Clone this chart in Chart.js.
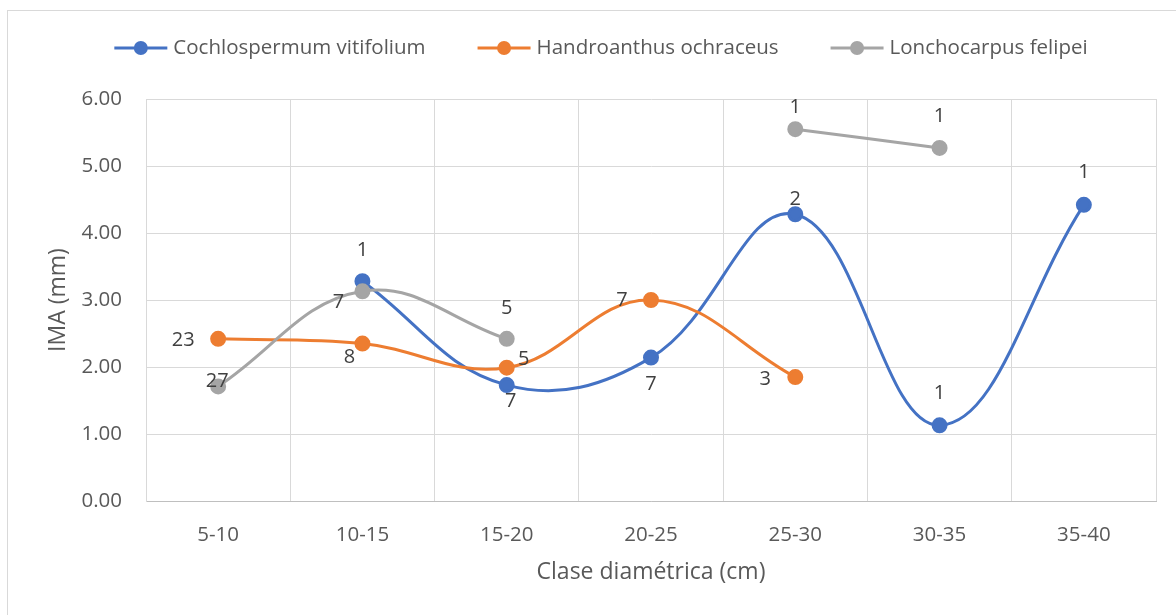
<!DOCTYPE html>
<html>
<head>
<meta charset="utf-8">
<title>IMA por clase diamétrica</title>
<script src="https://cdn.jsdelivr.net/npm/chart.js@4.4.1/dist/chart.umd.min.js"></script>
<style>
    html, body { margin: 0; padding: 0; background: #ffffff; }
</style>
</head>
<body>
<canvas id="ima-chart" width="1176" height="615"></canvas>
<script>
    "use strict";

    // Diameter classes (x axis)
    var categories = ["5-10", "10-15", "15-20", "20-25", "25-30", "30-35", "35-40"];

    // IMA (mm) per species
    var cochlospermum = [null, 3.28, 1.73, 2.14, 4.28, 1.13, 4.42];
    var handroanthus = [2.42, 2.35, 1.99, 3.00, 1.85, null, null];
    var lonchocarpus = [1.71, 3.13, 2.42, null, 5.55, 5.27, null];

    // Number of trees per class (shown as data labels)
    var cochlospermumN = [null, 1, 7, 7, 2, 1, 1];
    var handroanthusN = [23, 8, 5, 7, 3, null, null];
    var lonchocarpusN = [27, 7, 5, null, 1, 1, null];

    // Y axis range
    var yMin = 0;
    var yMax = 6;
    var yStep = 1;

    var FONT = "'Open Sans', 'Noto Sans', sans-serif";
    var AXIS_GREY = "#595959";
    var GRID_GREY = "#d9d9d9";


    // Outer chart border (like the Excel chart frame)
    var chartFrame = {
        id: 'chartFrame',
        beforeDraw: function (chart) {
            var ctx = chart.ctx;
            ctx.save();
            ctx.fillStyle = "#ffffff";
            ctx.fillRect(0, 0, chart.width, chart.height);
            ctx.strokeStyle = GRID_GREY;
            ctx.lineWidth = 1;
            ctx.strokeRect(7.5, 10.5, chart.width + 20, chart.height + 20);
            ctx.restore();
        }
    };


    // Count labels next to each point
    var countLabels = {
        id: 'countLabels',
        afterDatasetsDraw: function (chart) {
            var ctx = chart.ctx;
            ctx.save();
            ctx.font = "20px " + FONT;
            ctx.fillStyle = "#404040";
            ctx.textAlign = "center";
            ctx.textBaseline = "middle";
            chart.data.datasets.forEach(function (ds, i) {
                var meta = chart.getDatasetMeta(i);
                meta.data.forEach(function (pt, j) {
                    var n = ds.counts[j];
                    if (n === null || ds.data[j] === null) return;
                    var off = ds.labelOffsets[j] || [0, -31];
                    ctx.fillText(String(n), pt.x + off[0], pt.y + off[1]);
                });
            });
            ctx.restore();
        }
    };


    // Legend with line + marker, like Excel
    var lineLegend = {
        id: 'lineLegend',
        afterDraw: function (chart) {
            var ctx = chart.ctx;
            var markerW = 53, textGap = 6, itemGap = 52, centerX = 601, y = 48;
            ctx.save();
            ctx.font = "20.5px " + FONT;
            var items = chart.data.datasets.map(function (ds) {
                return {
                    text: ds.label,
                    color: ds.borderColor,
                    w: markerW + textGap + ctx.measureText(ds.label).width
                };
            });
            var total = items.reduce(function (s, it) { return s + it.w; }, 0) + itemGap * (items.length - 1);
            var x = centerX - total / 2;
            items.forEach(function (it) {
                ctx.strokeStyle = it.color;
                ctx.lineWidth = 3;
                ctx.beginPath();
                ctx.moveTo(x, y);
                ctx.lineTo(x + markerW, y);
                ctx.stroke();
                ctx.fillStyle = it.color;
                ctx.beginPath();
                ctx.arc(x + markerW / 2, y, 7, 0, Math.PI * 2);
                ctx.fill();
                ctx.fillStyle = AXIS_GREY;
                ctx.textAlign = "left";
                ctx.textBaseline = "middle";
                ctx.fillText(it.text, x + markerW + textGap, y);
                x += it.w + itemGap;
            });
            ctx.restore();
        }
    };


    function series(label, data, counts, color, order, offsets) {
        return {
            label: label,
            data: data,
            counts: counts,
            labelOffsets: offsets,
            borderColor: color,
            backgroundColor: color,
            pointBackgroundColor: color,
            pointBorderColor: color,
            pointRadius: 6.5,
            pointHoverRadius: 6.5,
            borderWidth: 3,
            tension: 0.4,
            spanGaps: false,
            fill: false,
            order: order
        };
    }

    var ctx1 = document.getElementById("ima-chart").getContext("2d");
    var imaChart = new Chart(ctx1, {
        type: "line",
        data: {
            labels: categories,
            datasets: [
                series("Cochlospermum vitifolium", cochlospermum, cochlospermumN, "#4472c4", 3,
                    [null, [0, -31], [4, 16], [0, 27], [0, -15], [0, -32], [0, -33]]),
                series("Handroanthus ochraceus", handroanthus, handroanthusN, "#ed7d31", 2,
                    [[-35, 1], [-13, 14], [17, -8], [-29, 0], [-30, 2], null, null]),
                series("Lonchocarpus felipei", lonchocarpus, lonchocarpusN, "#a5a5a5", 1,
                    [[-1, -5], [-24, 11], [0, -31], null, [0, -22], [0, -32], null])
            ]
        },
        options: {
            responsive: false,
            animation: false,
            layout: {
                padding: { left: 20, right: 20, top: 99, bottom: 0 }
            },
            plugins: {
                legend: { display: false },
                tooltip: { enabled: false }
            },
            scales: {
                x: {
                    type: "category",
                    offset: true,
                    grid: { color: GRID_GREY, lineWidth: 1, drawTicks: false, offset: true },
                    border: { color: "#bfbfbf", width: 1 },
                    ticks: {
                        color: AXIS_GREY,
                        font: { family: FONT, size: 20.5 },
                        padding: 22,
                        maxRotation: 0
                    },
                    title: {
                        display: true,
                        text: "Clase diamétrica (cm)",
                        color: AXIS_GREY,
                        font: { family: FONT, size: 23 },
                        padding: { top: 0, bottom: 29 }
                    },
                    afterFit: function (scale) { scale.height = 114; }
                },
                y: {
                    min: yMin,
                    max: yMax,
                    grid: { color: GRID_GREY, lineWidth: 1, drawTicks: false },
                    border: { color: GRID_GREY, width: 1 },
                    ticks: {
                        stepSize: yStep,
                        color: AXIS_GREY,
                        font: { family: FONT, size: 20.5 },
                        padding: 24,
                        callback: function (value) { return Number(value).toFixed(2); }
                    },
                    title: {
                        display: true,
                        text: "IMA (mm)",
                        color: AXIS_GREY,
                        font: { family: FONT, size: 23 },
                        padding: { top: 25, bottom: 0 }
                    },
                    afterFit: function (scale) { scale.width = 126; }
                }
            }
        },
        plugins: [chartFrame, countLabels, lineLegend]
    });
</script>
</body>
</html>
